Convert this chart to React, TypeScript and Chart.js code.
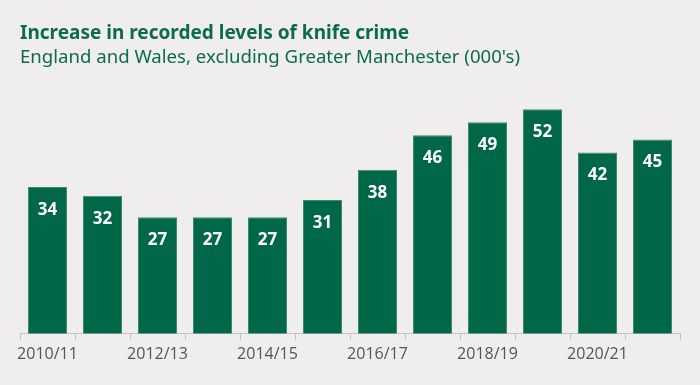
import React, { useEffect, useRef } from "react";
import { Chart, registerables } from "chart.js";

Chart.register(...registerables);

const categories = [
  "2010/11", "2011/12", "2012/13", "2013/14", "2014/15", "2015/16",
  "2016/17", "2017/18", "2018/19", "2019/20", "2020/21", "2021/22",
];
const values = [34, 32, 27, 27, 27, 31, 38, 46, 49, 52, 42, 45];
const titleText = "Increase in recorded levels of knife crime";
const subtitleText = "England and Wales, excluding Greater Manchester (000's)";

const GREEN = "#006749";
const BG = "#efeeec";

const valueLabels = {
  id: "valueLabels",
  afterDatasetsDraw(chart: any) {
    const { ctx } = chart;
    const meta = chart.getDatasetMeta(0);
    ctx.save();
    ctx.fillStyle = "#ffffff";
    ctx.font = "bold 17px 'Open Sans'";
    ctx.textAlign = "center";
    ctx.textBaseline = "middle";
    meta.data.forEach((bar: any, i: number) => {
      ctx.fillText(String(values[i]), bar.x, bar.y + 23);
    });
    ctx.restore();
  },
};

const bgPlugin = {
  id: "bgPlugin",
  beforeDraw(chart: any) {
    const { ctx, width, height } = chart;
    ctx.save();
    ctx.fillStyle = BG;
    ctx.fillRect(0, 0, width, height);
    ctx.restore();
  },
};

export default function App() {
  const ref = useRef<HTMLCanvasElement>(null);
  useEffect(() => {
    document.body.style.margin = "0";
    const chart = new Chart(ref.current!, {
      type: "bar",
      data: {
        labels: categories,
        datasets: [
          {
            data: values,
            backgroundColor: GREEN,
            borderColor: "#3f8a70",
            borderWidth: 1,
            categoryPercentage: 1,
            barPercentage: 0.71,
          },
        ],
      },
      options: {
        animation: false,
        responsive: false,
        maintainAspectRatio: false,
        layout: { padding: { left: 20, right: 20, top: 22, bottom: 16 } },
        plugins: {
          legend: { display: false },
          tooltip: { enabled: false },
          title: {
            display: true,
            text: titleText,
            align: "start",
            color: "#0b6b4b",
            font: { family: "'Noto Sans'", size: 19, weight: "bold" },
            padding: { top: 0, bottom: 2 },
          },
          subtitle: {
            display: true,
            text: subtitleText,
            align: "start",
            color: "#0b6b4b",
            font: { family: "'Noto Sans'", size: 18.6, weight: "normal" },
            padding: { top: 0, bottom: 10 },
          },
        },
        scales: {
          x: {
            grid: {
              offset: true,
              drawOnChartArea: false,
              drawTicks: true,
              tickLength: 6,
              color: "#c4c2bf",
            },
            border: { display: true, color: "#c4c2bf" },
            ticks: {
              autoSkip: false,
              maxRotation: 0,
              color: "#555555",
              padding: 5,
              font: { family: "'Open Sans'", size: 16 },
              callback: (_v: any, i: number) => (i % 2 === 0 ? categories[i] : ""),
            },
          },
          y: {
            display: false,
            min: 0,
            max: 59,
          },
        },
      },
      plugins: [bgPlugin, valueLabels],
    });
    return () => chart.destroy();
  }, []);
  return (
    <div style={{ width: 700, height: 385 }}>
      <canvas ref={ref} width={700} height={385} style={{ display: "block" }} />
    </div>
  );
}
